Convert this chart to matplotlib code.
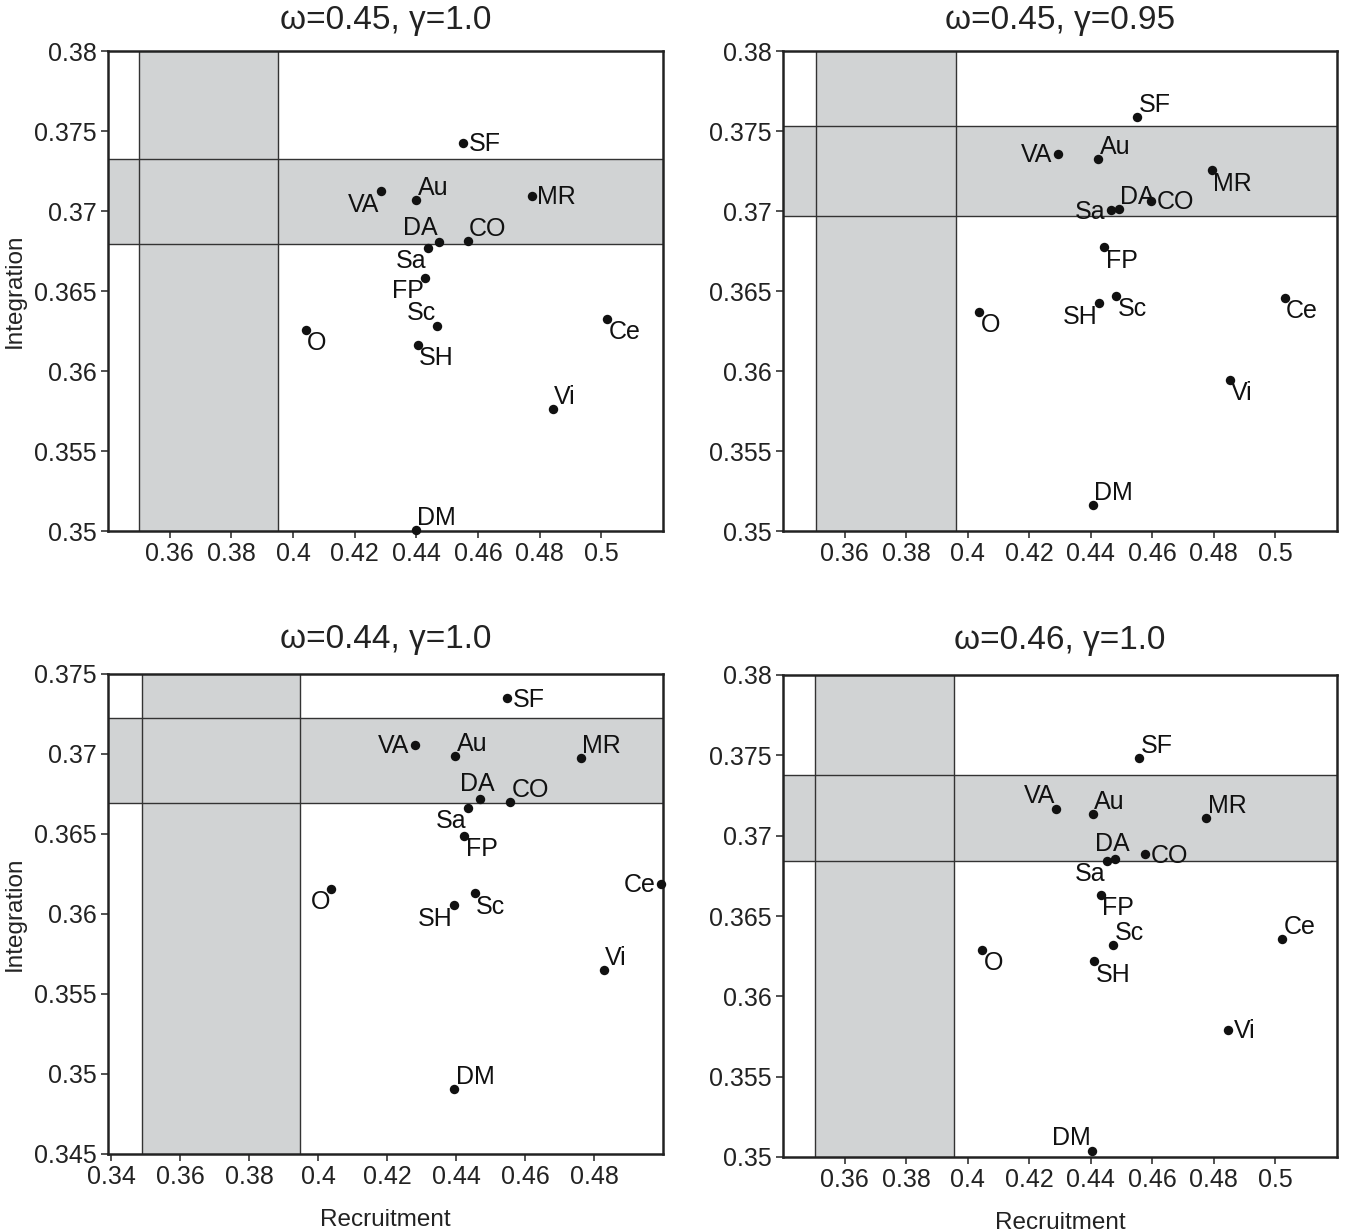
import matplotlib
matplotlib.use('Agg')
import matplotlib.pyplot as plt

plt.rcParams['font.family'] = ['Liberation Sans', 'DejaVu Sans']

# ---------------- data ----------------
names = ['SF', 'VA', 'Au', 'MR', 'DA', 'Sa', 'CO', 'FP', 'O', 'Sc', 'SH', 'Ce', 'Vi', 'DM']

titles = ['ω=0.45, γ=1.0', 'ω=0.45, γ=0.95', 'ω=0.44, γ=1.0', 'ω=0.46, γ=1.0']

rec_a = [0.4552, 0.4284, 0.4400, 0.4774, 0.4475, 0.4438, 0.4566, 0.4429, 0.4042, 0.4467, 0.4405, 0.5019, 0.4842, 0.4399]
int_a = [0.37427, 0.37123, 0.37066, 0.37094, 0.36808, 0.36770, 0.36815, 0.36582, 0.36256, 0.36279, 0.36163, 0.36327, 0.35760, 0.35008]

rec_b = [0.4551, 0.4294, 0.4425, 0.4793, 0.4491, 0.4465, 0.4595, 0.4444, 0.4038, 0.4483, 0.4426, 0.5030, 0.4852, 0.4407]
int_b = [0.37588, 0.37358, 0.37322, 0.37255, 0.37013, 0.37004, 0.37065, 0.36774, 0.36369, 0.36469, 0.36423, 0.36458, 0.35944, 0.35163]

rec_c = [0.4547, 0.4281, 0.4397, 0.4761, 0.4468, 0.4433, 0.4556, 0.4424, 0.4038, 0.4454, 0.4395, 0.4995, 0.4828, 0.4395]
int_c = [0.37348, 0.37057, 0.36986, 0.36978, 0.36718, 0.36664, 0.36700, 0.36488, 0.36157, 0.36130, 0.36055, 0.36188, 0.35650, 0.34906]

rec_d = [0.4557, 0.4288, 0.4406, 0.4775, 0.4480, 0.4452, 0.4577, 0.4433, 0.4047, 0.4472, 0.4411, 0.5021, 0.4846, 0.4403]
int_d = [0.37481, 0.37165, 0.37133, 0.37110, 0.36856, 0.36842, 0.36883, 0.36633, 0.36288, 0.36319, 0.36217, 0.36354, 0.35793, 0.35038]

# shaded reference ranges (recruitment band, integration band)
rec_band = [(0.3502, 0.3950), (0.3508, 0.3961), (0.3489, 0.3947), (0.3503, 0.3956)]
int_band = [(0.36791, 0.37327), (0.36971, 0.37529), (0.36693, 0.37226), (0.36842, 0.37375)]

# axis ranges and ticks
x_lims = [(0.340, 0.520), (0.340, 0.520), (0.339, 0.500), (0.340, 0.520)]
y_lims = [(0.350, 0.380), (0.350, 0.380), (0.345, 0.375), (0.350, 0.380)]
x_ticks = [[0.36, 0.38, 0.40, 0.42, 0.44, 0.46, 0.48, 0.50],
           [0.36, 0.38, 0.40, 0.42, 0.44, 0.46, 0.48, 0.50],
           [0.34, 0.36, 0.38, 0.40, 0.42, 0.44, 0.46, 0.48],
           [0.36, 0.38, 0.40, 0.42, 0.44, 0.46, 0.48, 0.50]]
y_ticks = [[0.35, 0.355, 0.36, 0.365, 0.37, 0.375, 0.38],
           [0.35, 0.355, 0.36, 0.365, 0.37, 0.375, 0.38],
           [0.345, 0.35, 0.355, 0.36, 0.365, 0.37, 0.375],
           [0.35, 0.355, 0.36, 0.365, 0.37, 0.375, 0.38]]

# label placement codes (order follows names)
label_pos = [
    ['r', 'lb', 'ra', 'r', 'la', 'lb', 'ra', 'lb', 'rb', 'la', 'rb', 'rb', 'ra', 'ra'],
    ['ra', 'l', 'ra', 'rb', 'ra', 'l', 'r', 'rb', 'rb', 'rb', 'lb', 'rb', 'rb', 'ra'],
    ['r', 'l', 'ra', 'ra', 'a', 'lb', 'ra', 'rb', 'lb', 'rb', 'lb', 'l', 'ra', 'ra'],
    ['ra', 'la', 'ra', 'ra', 'a', 'lb', 'r', 'rb', 'rb', 'ra', 'rb', 'ra', 'r', 'la'],
]

offsets = {
    'r': ((4, -1), 'left', 'center'),
    'l': ((-4, -1), 'right', 'center'),
    'ra': ((1, 0), 'left', 'bottom'),
    'rb': ((1, -1), 'left', 'top'),
    'la': ((-1, 1), 'right', 'bottom'),
    'lb': ((-1, -1), 'right', 'top'),
    'a': ((-2, 2), 'center', 'bottom'),
}

fmt = lambda v: ('%g' % v)

rects = [
    [108 / 1347, 1 - 531 / 1232, (663 - 108) / 1347, (531 - 51) / 1232],
    [783 / 1347, 1 - 531 / 1232, (1337 - 783) / 1347, (531 - 51) / 1232],
    [108 / 1347, 1 - 1154 / 1232, (663 - 108) / 1347, (1154 - 674) / 1232],
    [783 / 1347, 1 - 1157 / 1232, (1337 - 783) / 1347, (1157 - 675) / 1232],
]
title_pads = [16, 16, 19, 19]

xs = [rec_a, rec_b, rec_c, rec_d]
ys = [int_a, int_b, int_c, int_d]

fig = plt.figure(figsize=(13.47, 12.32), dpi=100)
band_fc = '#d1d3d4'
line_c = '#333333'

for i in range(4):
    ax = fig.add_axes(rects[i])
    ax.set_xlim(*x_lims[i])
    ax.set_ylim(*y_lims[i])
    ax.axvspan(rec_band[i][0], rec_band[i][1], facecolor=band_fc, edgecolor='none', zorder=0)
    ax.axhspan(int_band[i][0], int_band[i][1], facecolor=band_fc, edgecolor='none', zorder=0)
    for v in rec_band[i]:
        ax.axvline(v, color=line_c, lw=1.0, zorder=1)
    for v in int_band[i]:
        ax.axhline(v, color=line_c, lw=1.0, zorder=1)
    ax.scatter(xs[i], ys[i], s=46, color='#111111', zorder=3, clip_on=False, linewidths=0)
    for n, x, y, code in zip(names, xs[i], ys[i], label_pos[i]):
        off, ha, va = offsets[code]
        ax.annotate(n, (x, y), xytext=off, textcoords='offset points',
                    ha=ha, va=va, fontsize=18, color='#111111', zorder=4,
                    annotation_clip=False)
    ax.set_xticks(x_ticks[i])
    ax.set_xticklabels([fmt(v) for v in x_ticks[i]])
    ax.set_yticks(y_ticks[i])
    ax.set_yticklabels([fmt(v) for v in y_ticks[i]])
    ax.tick_params(labelsize=18, length=5, width=1.2, color=line_c, pad=3, labelcolor='#222222')
    for s in ax.spines.values():
        s.set_linewidth(1.8)
        s.set_color('#222222')
    ax.set_title(titles[i], fontsize=24, pad=title_pads[i], color='#222222')
    if i in (0, 2):
        ax.set_ylabel('Integration', fontsize=17.5, labelpad=6, color='#222222')
    if i in (2, 3):
        ax.set_xlabel('Recruitment', fontsize=17.5, labelpad=14, color='#222222')

fig.savefig('out.png', dpi=100)
